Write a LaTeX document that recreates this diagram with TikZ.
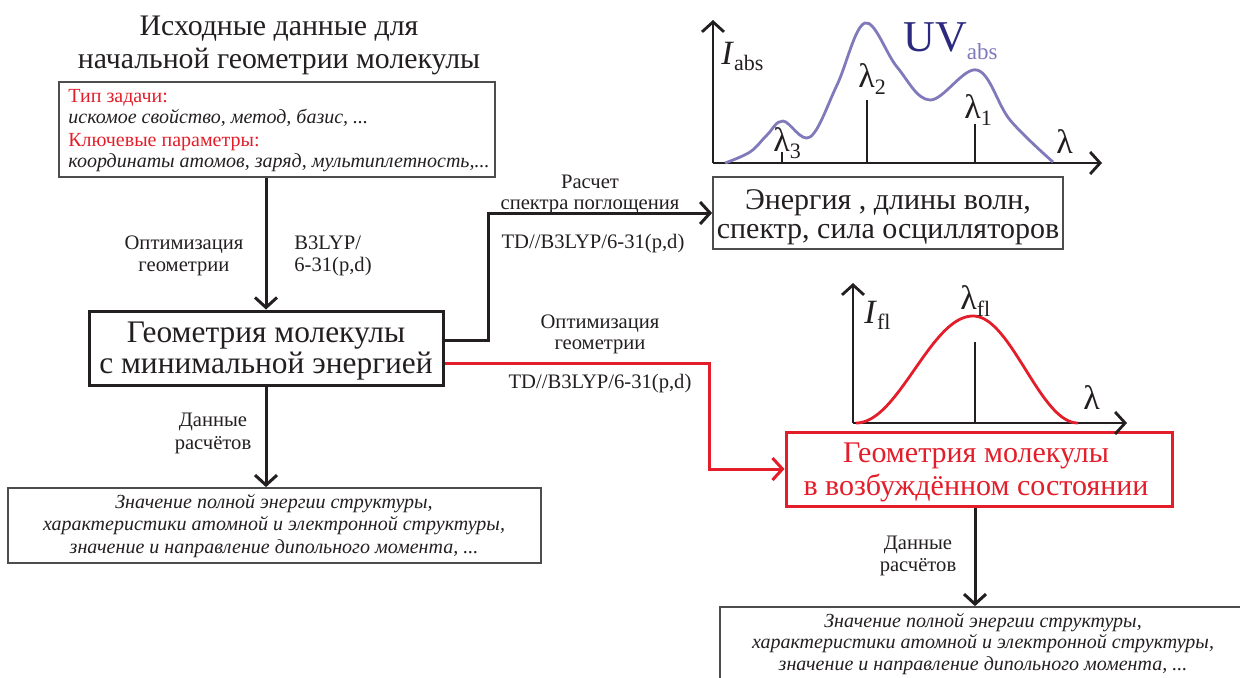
\documentclass[tikz,border=0pt]{standalone}
\usepackage{fontspec}
\setmainfont{Liberation Serif}
\usetikzlibrary{arrows.meta,calc}
\definecolor{ink}{HTML}{231F20}
\definecolor{rd}{HTML}{E31E2A}
\definecolor{uvline}{HTML}{8079BA}
\definecolor{uvtext}{HTML}{2B2A7E}
\definecolor{frame}{HTML}{4D4D4D}
\newcommand\fzTitle{\fontsize{14.9}{17}\selectfont}
\newcommand\fzBig{\fontsize{15.7}{17}\selectfont}
\newcommand\fzRed{\fontsize{15}{17}\selectfont}
\newcommand\fzEn{\fontsize{15}{17}\selectfont}
\newcommand\fzSmall{\fontsize{10}{12}\selectfont}
\newcommand\fzLab{\fontsize{10.3}{12}\selectfont}
\newcommand\fzLam{\fontsize{17}{17}\selectfont}
\newcommand\fzSub{\fontsize{11}{11}\selectfont}
\begin{document}
\begin{tikzpicture}[x=0.5pt,y=-0.5pt,
  txt/.style={inner sep=0pt, anchor=base, text=ink},
  thinbox/.style={draw=frame, line width=0.9pt, inner sep=0pt},
  thickbox/.style={draw=ink, line width=1.5pt, inner sep=0pt},
  conn/.style={draw=ink, line width=1.5pt, -{Straight Barb[length=5pt,width=11pt]}},
  axisline/.style={draw=ink, line width=1.4pt, -{Straight Barb[length=5pt,width=11pt]}},
  tickline/.style={draw=ink, line width=0.7pt}]
\useasboundingbox (0,0) rectangle (1240,677);
\clip (0,0) rectangle (1240,677);

% title
\node[txt] (t1) at (279,35) {\fzTitle Исходные данные для};
\node[txt] (t2) at (279,68) {\fzTitle начальной геометрии молекулы};

% input box
\node[thinbox, minimum width=218pt, minimum height=47.5pt] (inp) at (277,129.5) {};
\node[txt, anchor=base west, text=rd] (inp1) at (68,102) {\fzSmall Тип задачи:};
\node[txt, anchor=base west] (inp2) at (68,123) {\fzSmall\itshape искомое свойство, метод, базис, ...};
\node[txt, anchor=base west, text=rd] (inp3) at (68,146) {\fzSmall Ключевые параметры:};
\node[txt, anchor=base west] (inp4) at (68,167) {\fzSmall\itshape координаты атомов, заряд, мультиплетность,...};

% main box
\node[thickbox, minimum width=177pt, minimum height=37pt] (main) at (266,348) {};
\node[txt] (m1) at (266,342) {\fzBig Геометрия молекулы};
\node[txt] (m2) at (266,373) {\fzBig с минимальной энергией};

% energy box
\node[thinbox, minimum width=175pt, minimum height=36pt] (energy) at (888,213) {};
\node[txt] (e1) at (888,209) {\fzEn Энергия , длины волн,};
\node[txt] (e2) at (888,238) {\fzEn спектр, сила осцилляторов};

% excited box
\node[draw=rd, line width=1.5pt, inner sep=0pt, minimum width=193pt, minimum height=37pt] (exc) at (979,469) {};
\node[txt, text=rd] (x1) at (976,462) {\fzRed Геометрия молекулы};
\node[txt, text=rd] (x2) at (976,495) {\fzRed в возбуждённом состоянии};

% result boxes
\node[thinbox, minimum width=266.5pt, minimum height=37.5pt] (res1) at (274.5,525.5) {};
\node[txt] (r11) at (274,508) {\fzSmall\itshape Значение полной энергии структуры,};
\node[txt] (r12) at (274,530) {\fzSmall\itshape характеристики атомной и электронной структуры,};
\node[txt] (r13) at (274,553) {\fzSmall\itshape значение и направление дипольного момента, ...};

\node[thinbox, minimum width=270pt, minimum height=41.5pt] (res2) at (990,648.5) {};
\node[txt] (r21) at (983,627) {\fzSmall\itshape Значение полной энергии структуры,};
\node[txt] (r22) at (983,648) {\fzSmall\itshape характеристики атомной и электронной структуры,};
\node[txt] (r23) at (983,670) {\fzSmall\itshape значение и направление дипольного момента, ...};

% connectors
\coordinate (b1) at (488,0);
\coordinate (b2) at (709,0);
\draw[conn] (inp.south -| main.north) -- (main.north);
\draw[conn] (main.south) -- (main.south |- res1.north);
\draw[conn] ([yshift=4pt]main.east) -| (b1 |- energy.west) -- (energy.west);
\draw[conn, draw=rd] ([yshift=-7.5pt]main.east) -| (b2 |- exc.west) -- (exc.west);
\draw[conn] ([xshift=-2pt]exc.south) -- ([xshift=-2pt]exc.south |- res2.north);

% connector labels
\node[txt] (lo1) at (184,249) {\fzLab Оптимизация};
\node[txt] (lo2) at (184,271) {\fzLab геометрии};
\node[txt, anchor=base west] (lb1) at (294,249) {\fzLab B3LYP/};
\node[txt, anchor=base west] (lb2) at (294,271) {\fzLab 6-31(p,d)};
\node[txt] (ls1) at (590,188) {\fzLab Расчет};
\node[txt] (ls2) at (590,209) {\fzLab спектра поглощения};
\node[txt] (ls3) at (593,248) {\fzLab TD//B3LYP/6-31(p,d)};
\node[txt] (lr1) at (600,328) {\fzLab Оптимизация};
\node[txt] (lr2) at (600,349) {\fzLab геометрии};
\node[txt] (lr3) at (600,388) {\fzLab TD//B3LYP/6-31(p,d)};
\node[txt] (ld1) at (213,426) {\fzLab Данные};
\node[txt] (ld2) at (213,449) {\fzLab расчётов};
\node[txt] (ld3) at (918,549) {\fzLab Данные};
\node[txt] (ld4) at (918,571) {\fzLab расчётов};

% absorption spectrum
\coordinate (o1) at (713,163);
\draw[axisline] (o1) -- (713,20);
\draw[axisline] (o1) -- (1102,163);
\draw[uvline, line width=1.4pt] plot[smooth, tension=0.6] coordinates {(725,163) (750,152) (767,135) (783,121) (810,137) (837,85) (865,23) (897,67) (930,100) (977,70) (1010,120) (1053,162)};
\draw[tickline] (782,163) -- (782,152);
\draw[tickline] (867,163) -- (867,100);
\draw[tickline] (975,163) -- (975,124);
\node[txt, anchor=base west] (iabs) at (721,64) {\fontsize{17}{17}\selectfont\itshape I\/\upshape\raisebox{-3pt}{\fzSub abs}};
\node[txt, anchor=base west] (lam3) at (773,151) {\fzLam λ\raisebox{-3.5pt}{\fzSub 3}};
\node[txt, anchor=base west] (lam2) at (858,87) {\fzLam λ\raisebox{-3.5pt}{\fzSub 2}};
\node[txt, anchor=base west] (lam1) at (964,118) {\fzLam λ\raisebox{-3.5pt}{\fzSub 1}};
\node[txt, anchor=base west] (lamx1) at (1056,153) {\fzLam λ};
\node[txt, anchor=base west, text=uvtext] (uv) at (903,51) {\fontsize{22}{22}\selectfont UV\textcolor{uvline}{\raisebox{-4pt}{\fontsize{11.5}{11.5}\selectfont abs}}};

% fluorescence spectrum
\coordinate (o2) at (853,423);
\draw[axisline] (o2) -- (853,283);
\draw[axisline] (o2) -- (1127,423);
\draw[rd, line width=1.4pt] plot[domain=856:973, samples=50] (\x,{423-53.5*(1-cos(1.5385*(\x-856)))})
  -- plot[domain=973:1078, samples=50] (\x,{423-53.5*(1-cos(1.7143*(1078-\x)))});
\draw[tickline] (975,423) -- (975,342);
\node[txt, anchor=base west] (ifl) at (864,323) {\fontsize{17}{17}\selectfont\itshape I\/\upshape\raisebox{-3pt}{\fzSub fl}};
\node[txt, anchor=base west] (lamfl) at (960,309) {\fzLam λ\raisebox{-3.5pt}{\fzSub fl}};
\node[txt, anchor=base west] (lamx2) at (1083,409) {\fzLam λ};
\end{tikzpicture}
\end{document}
